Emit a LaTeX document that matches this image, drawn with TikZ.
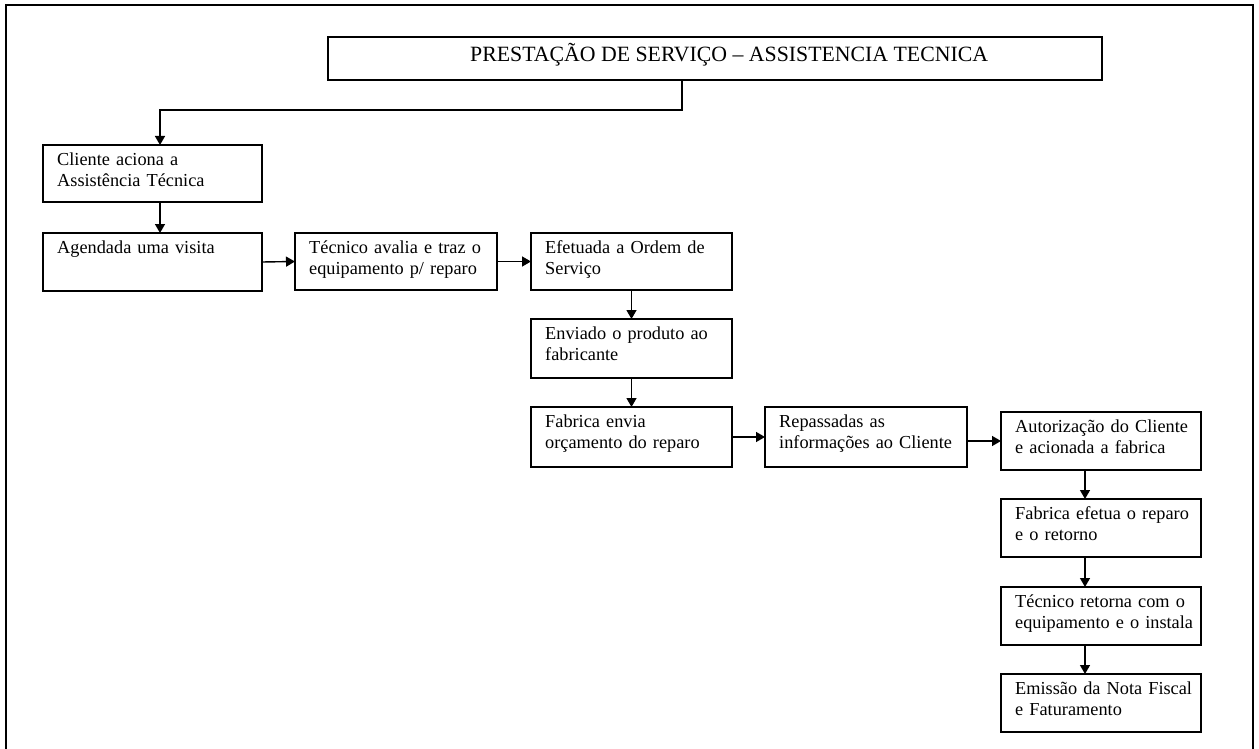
\documentclass[tikz,border=0pt]{standalone}
\usepackage{fontspec}
\setmainfont{Liberation Serif}
\usetikzlibrary{arrows.meta}

% a box drawn from its corners (x1,y1)-(x2,y2), with its text set from the top left
\newcommand{\flowbox}[6]{%
  \node[stepbox, minimum width={#4pt-#2pt}, minimum height={#5pt-#3pt}, anchor=north west] (#1) at (#2,#3) {};
  \node[boxtext, anchor=north west, xshift=14pt, yshift=-5.3pt] (#1-t) at (#1.north west) {#6};
}

\begin{document}
\begin{tikzpicture}[x=1pt, y=-1pt,
  stepbox/.style={draw=black, line width=1.4pt, inner sep=0pt, outer sep=0pt, fill=white},
  boxtext/.style={inner sep=0pt, text width=185pt, align=left,
    font=\fontsize{18.3}{21}\selectfont, execute at begin node=\strut},
  flow/.style={line width=1.4pt, -{Triangle[length=9pt, width=10pt]}},
  frameline/.style={line width=2.8pt}]
  \useasboundingbox (0,0) rectangle (1259,749);
  \clip (0,0) rectangle (1259,749);

  % page frame
  \draw[frameline] (6,770) -- (6,5) -- (1253,5) -- (1253,770);

  % heading
  \node[stepbox, minimum width=774pt, minimum height=43pt, anchor=north west] (title) at (328,37) {};
  \node[anchor=base west, inner sep=0pt, font=\fontsize{21.8}{25}\selectfont] (title-t) at (470,62)
    {PRESTAÇÃO DE SERVIÇO – ASSISTENCIA TECNICA};

  % process steps
  \flowbox{cliente}{43}{145}{262}{202}{Cliente aciona a\\Assistência Técnica}
  \flowbox{agendada}{43}{233}{262}{291}{Agendada uma visita}
  \flowbox{tecnico}{295}{233}{497}{290}{Técnico avalia e traz o\\equipamento p/ reparo}
  \flowbox{efetuada}{531}{233}{732}{290}{Efetuada a Ordem de\\Serviço}
  \flowbox{enviado}{531}{319}{732}{378}{Enviado o produto ao\\fabricante}
  \flowbox{fabrica}{531}{407}{732}{467}{Fabrica envia\\orçamento do reparo}
  \flowbox{repassadas}{765}{407}{967}{467}{Repassadas as\\informações ao Cliente}
  \flowbox{autoriza}{1001}{412}{1201}{470}{Autorização do Cliente\\e acionada a fabrica}
  \flowbox{efetua}{1001}{499}{1201}{557}{Fabrica efetua o reparo\\e o retorno}
  \flowbox{retorna}{1001}{587}{1201}{645}{Técnico retorna com o\\equipamento e o instala}
  \flowbox{emissao}{1001}{674}{1201}{732}{Emissão da Nota Fiscal\\e Faturamento}

  % connectors
  \coordinate (bend) at (682,110);
  \draw[flow] (bend |- title.south) -- (bend) -| ([xshift=7.5pt]cliente.north);
  \draw[flow] ([xshift=7.5pt]cliente.south) -- ([xshift=7.5pt]agendada.north);
  \draw[flow] (agendada.east) -- (tecnico.west);
  \draw[flow] (tecnico.east) -- (efetuada.west);
  \draw[flow] (efetuada.south) -- (enviado.north);
  \draw[flow] (enviado.south) -- (fabrica.north);
  \draw[flow] (fabrica.east) -- (repassadas.west);
  \draw[flow] (repassadas.east |- autoriza.west) -- (autoriza.west);
  \draw[flow] ([xshift=-16pt]autoriza.south) -- ([xshift=-16pt]efetua.north);
  \draw[flow] ([xshift=-16pt]efetua.south) -- ([xshift=-16pt]retorna.north);
  \draw[flow] ([xshift=-16pt]retorna.south) -- ([xshift=-16pt]emissao.north);
\end{tikzpicture}
\end{document}
